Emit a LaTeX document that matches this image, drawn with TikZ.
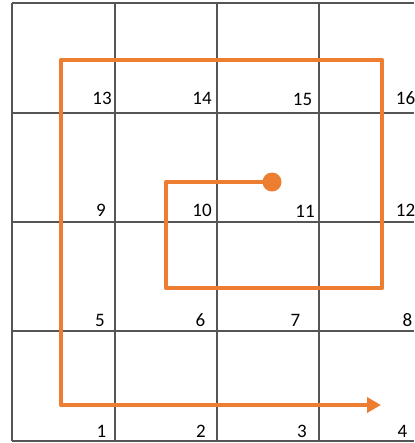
\documentclass[tikz,border=0pt]{standalone}
\usepackage{fontspec}
\setmainfont{Carlito}
\usepackage{xcolor}
\usepackage{tikz}
\usetikzlibrary{arrows.meta, calc}
\definecolor{gridgray}{RGB}{85, 85, 85}
\definecolor{spiralorange}{RGB}{237, 125, 49}

\begin{document}
\begin{tikzpicture}[
    x=1pt, y=-1pt,
    gridline/.style={draw=gridgray, line width=1.6pt},
    num/.style={anchor=base, inner sep=0pt, font=\fontsize{19}{19}\selectfont},
    spiral/.style={draw=spiralorange, line width=4.5pt, line join=round, -{Triangle[length=14pt, width=15pt]}},
    dot/.style={circle, fill=spiralorange, minimum size=19pt, inner sep=0pt}
]
    \useasboundingbox (0,0) rectangle (414,443);

    % Grid
    \draw[gridline] (12,3) -- (12,441);
    \draw[gridline] (115,3) -- (115,441);
    \draw[gridline] (217,3) -- (217,441);
    \draw[gridline] (319,3) -- (319,441);
    \draw[gridline] (12,3) -- (414,3);
    \draw[gridline] (12,113) -- (414,113);
    \draw[gridline] (12,222) -- (414,222);
    \draw[gridline] (12,331) -- (414,331);
    \draw[gridline] (12,441) -- (414,441);

    % Cell numbers
    \node[num] (l13) at (102,105) {13};
    \node[num] (l14) at (202,105) {14};
    \node[num] (l15) at (302.5,106) {15};
    \node[num] (l16) at (405.5,105) {16};
    \node[num] (l9) at (101,216) {9};
    \node[num] (l10) at (202,216) {10};
    \node[num] (l11) at (305,217) {11};
    \node[num] (l12) at (405.5,216) {12};
    \node[num] (l5) at (100,326) {5};
    \node[num] (l6) at (200.5,326) {6};
    \node[num] (l7) at (295.5,326) {7};
    \node[num] (l8) at (407.5,326) {8};
    \node[num] (l1) at (101.5,437) {1};
    \node[num] (l2) at (201,437) {2};
    \node[num] (l3) at (302,437) {3};
    \node[num] (l4) at (402.5,437) {4};

    % Spiral path
    \coordinate (start) at (272,182);
    \coordinate (c1) at (166,182);
    \coordinate (c2) at (166,288);
    \coordinate (c3) at (382,288);
    \coordinate (c4) at (382,60);
    \coordinate (c5) at (61,60);
    \coordinate (c6) at (61,405);
    \coordinate (stop) at (381,405);
    \draw[spiral] (start) -- (c1) -- (c2) -- (c3) -- (c4) -- (c5) -- (c6) -- (stop);
    \node[dot] (head) at (start) {};
\end{tikzpicture}
\end{document}
